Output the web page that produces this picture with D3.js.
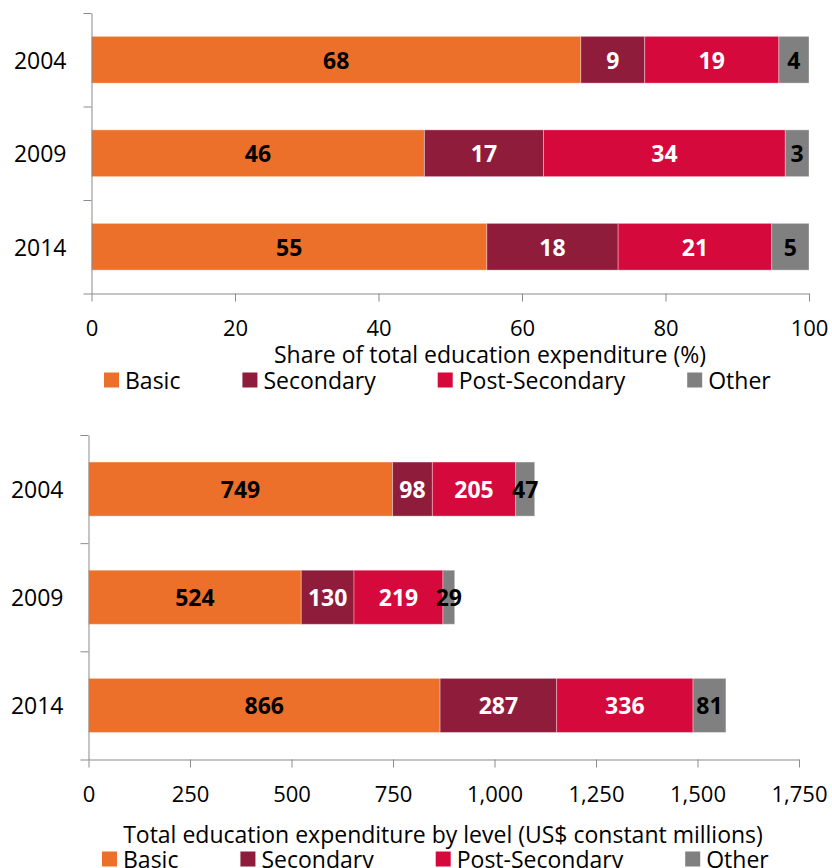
<!DOCTYPE html>
<html lang="en">
<head>
  <meta charset="UTF-8">
  <title>Education expenditure by level</title>
  <script src="https://cdn.jsdelivr.net/npm/d3@7/dist/d3.min.js"></script>
  <style>
    body{ margin:0; background:#fff; }
    svg text{ font-family: "Open Sans", sans-serif; }
  </style>
</head>
<body>
<div class="chart"></div>
<script>
const years = ['2004', '2009', '2014'];
const levels = ['Basic', 'Secondary', 'Post-Secondary', 'Other'];
const colors = ['#ec702a', '#8f1c3b', '#d5093b', '#808080'];
const labelColors = ['#000', '#fff', '#fff', '#000'];

// share of total education expenditure (%), one array per level
const shareBasic = [68.2, 46.4, 55.1];
const shareSecondary = [8.9, 16.6, 18.3];
const sharePost = [18.7, 33.7, 21.4];
const shareOther = [4.2, 3.3, 5.2];
const shareTicks = [0, 20, 40, 60, 80, 100];

// total expenditure, US$ constant millions
const totalBasic = [749, 524, 866];
const totalSecondary = [98, 130, 287];
const totalPost = [205, 219, 336];
const totalOther = [47, 29, 81];
const totalTicks = [0, 250, 500, 750, 1000, 1250, 1500, 1750];

const W = 832, H = 868;
const svg = d3.select('.chart').append('svg').attr('width', W).attr('height', H);
const axisColor = '#8a8a8a';

function drawChart(cfg){
  const series = [cfg.basic, cfg.secondary, cfg.post, cfg.other];
  const rows = years.map((y, i) => {
    const r = {year: y};
    levels.forEach((l, j) => r[l] = series[j][i]);
    return r;
  });
  const stacked = d3.stack().keys(levels)(rows);

  const x = d3.scaleLinear().domain([0, cfg.max]).range([cfg.left, cfg.right]);
  const y = d3.scaleBand().domain(years).range([cfg.top, cfg.bottom]).paddingInner(0.5).paddingOuter(0.25);
  const g = svg.append('g');

  // bars
  const layer = g.selectAll('g.layer').data(stacked).enter().append('g')
    .attr('fill', (d, i) => colors[i]);
  layer.selectAll('rect').data(d => d).enter().append('rect')
    .attr('x', d => x(d[0])).attr('width', d => x(d[1]) - x(d[0]))
    .attr('y', d => y(d.data.year)).attr('height', y.bandwidth())
    .attr('stroke', '#fff').attr('stroke-opacity', 0.35).attr('stroke-width', 1);
  layer.selectAll('text').data(d => d).enter().append('text')
    .attr('x', d => (x(d[0]) + x(d[1])) / 2)
    .attr('y', d => y(d.data.year) + y.bandwidth() / 2)
    .attr('text-anchor', 'middle').attr('dominant-baseline', 'central')
    .attr('font-size', 23).attr('font-weight', 700)
    .attr('fill', function(){ return labelColors[levels.indexOf(d3.select(this.parentNode).datum().key)]; })
    .text(d => d3.format('.0f')(d[1] - d[0]));

  // x axis
  const xAxis = g.append('g').attr('transform', `translate(0,${cfg.bottom})`)
    .call(d3.axisBottom(x).tickValues(cfg.ticks).tickFormat(d3.format(',')).tickSize(8).tickSizeOuter(0).tickPadding(19));
  xAxis.select('.domain').attr('stroke', axisColor);
  xAxis.selectAll('.tick line').attr('stroke', axisColor);
  xAxis.selectAll('.tick text').attr('font-size', 22).attr('fill', '#000').attr('font-family', '"Open Sans", sans-serif');

  // y axis: ticks on band boundaries, labels centred on bands
  const yb = d3.scaleLinear().domain([0, years.length]).range([cfg.top, cfg.bottom]);
  const yAxis = g.append('g').attr('transform', `translate(${cfg.left},0)`)
    .call(d3.axisLeft(yb).tickValues(d3.range(years.length + 1)).tickFormat('').tickSize(8).tickSizeOuter(0));
  yAxis.select('.domain').attr('stroke', axisColor);
  yAxis.selectAll('.tick line').attr('stroke', axisColor);
  g.selectAll('text.cat').data(years).enter().append('text').attr('class', 'cat')
    .attr('x', cfg.left - 25).attr('y', d => y(d) + y.bandwidth() / 2)
    .attr('text-anchor', 'end').attr('dominant-baseline', 'central')
    .attr('font-size', 23).text(d => d);

  // title
  g.append('text').attr('x', cfg.titleX).attr('y', cfg.titleY)
    .attr('text-anchor', 'middle').attr('dominant-baseline', 'central')
    .attr('font-size', 23).text(cfg.title);

  // legend
  let lx = cfg.legendX;
  levels.forEach((l, i) => {
    g.append('rect').attr('x', lx).attr('y', cfg.legendY - 7.5).attr('width', 15).attr('height', 15).attr('fill', colors[i]);
    const t = g.append('text').attr('x', lx + 21).attr('y', cfg.legendY)
      .attr('dominant-baseline', 'central').attr('font-size', 23).text(l);
    lx += 21 + t.node().getComputedTextLength() + 62;
  });
}

drawChart({
  basic: shareBasic, secondary: shareSecondary, post: sharePost, other: shareOther,
  max: 100, ticks: shareTicks, left: 91.5, right: 809, top: 13, bottom: 293.5,
  title: 'Share of total education expenditure (%)', titleX: 490, titleY: 354,
  legendX: 104, legendY: 380
});
drawChart({
  basic: totalBasic, secondary: totalSecondary, post: totalPost, other: totalOther,
  max: 1750, ticks: totalTicks, left: 88.5, right: 799, top: 435, bottom: 759.5,
  title: 'Total education expenditure by level (US$ constant millions)', titleX: 443, titleY: 834,
  legendX: 102, legendY: 859
});
</script>
</body>
</html>
